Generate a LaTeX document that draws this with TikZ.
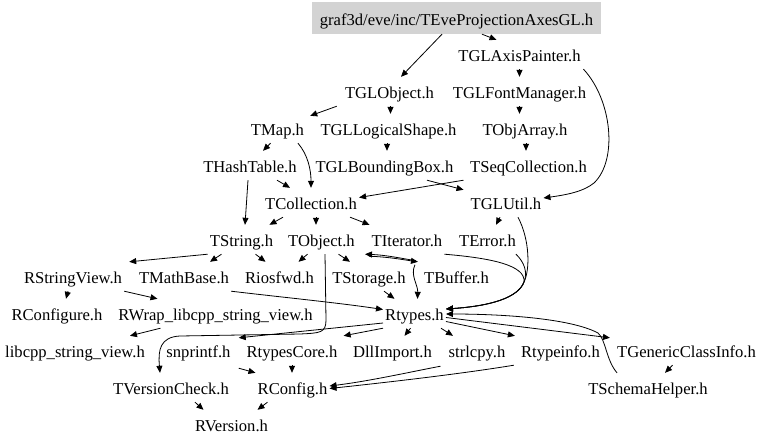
\documentclass[tikz,border=0pt]{standalone}
\usepackage{fontspec}
\setmainfont{Liberation Serif}
\usetikzlibrary{arrows.meta}
\definecolor{mainfill}{RGB}{211,211,211}
\begin{document}
\begin{tikzpicture}[x=1pt,y=-1pt,
  font=\fontsize{16.6}{19}\selectfont,
  nd/.style={inner xsep=2pt,inner ysep=0pt,text height=16pt,text depth=2pt,minimum height=29pt,anchor=base},
  mainnode/.style={inner xsep=2pt,inner ysep=0pt,text height=16pt,text depth=2pt,minimum height=32pt,minimum width=289pt,fill=mainfill,anchor=center},
  e/.style={draw=black,line width=0.8pt,-{Triangle[length=7pt,width=6pt]}}]
\fill[white] (0,0) rectangle (768,447);
\useasboundingbox (0,0) rectangle (768,447);
% nodes
\node[mainnode] (main) at (456.5,18) {graf3d/eve/inc/TEveProjectionAxesGL.h};
\node[nd] (TGLAxisPainter) at (519.5,61.5) {TGLAxisPainter.h};
\node[nd] (TGLObject) at (389.5,98.5) {TGLObject.h};
\node[nd] (TGLFontManager) at (519.5,98.5) {TGLFontManager.h};
\node[nd] (TMap) at (277.5,135.5) {TMap.h};
\node[nd] (TGLLogicalShape) at (388.5,135.5) {TGLLogicalShape.h};
\node[nd] (TObjArray) at (525,135.5) {TObjArray.h};
\node[nd] (THashTable) at (250,172.5) {THashTable.h};
\node[nd] (TGLBoundingBox) at (384.5,172.5) {TGLBoundingBox.h};
\node[nd] (TSeqCollection) at (528.5,172.5) {TSeqCollection.h};
\node[nd] (TCollection) at (311,209.5) {TCollection.h};
\node[nd] (TGLUtil) at (506,209.5) {TGLUtil.h};
\node[nd] (TString) at (241.5,246.5) {TString.h};
\node[nd] (TObject) at (321.5,246.5) {TObject.h};
\node[nd] (TIterator) at (407,246.5) {TIterator.h};
\node[nd] (TError) at (487.5,246.5) {TError.h};
\node[nd] (RStringView) at (73,283.5) {RStringView.h};
\node[nd] (TMathBase) at (184,283.5) {TMathBase.h};
\node[nd] (Riosfwd) at (279.5,283.5) {Riosfwd.h};
\node[nd] (TStorage) at (369,283.5) {TStorage.h};
\node[nd] (TBuffer) at (456.5,283.5) {TBuffer.h};
\node[nd] (RConfigure) at (57,320.5) {RConfigure.h};
\node[nd] (RWrap) at (215.5,320.5) {RWrap\_libcpp\_string\_view.h};
\node[nd] (Rtypes) at (414.5,320.5) {Rtypes.h};
\node[nd] (libcpp) at (75,357.5) {libcpp\_string\_view.h};
\node[nd] (snprintf) at (198.5,357.5) {snprintf.h};
\node[nd] (RtypesCore) at (292,357.5) {RtypesCore.h};
\node[nd] (DllImport) at (392.5,357.5) {DllImport.h};
\node[nd] (strlcpy) at (477,357.5) {strlcpy.h};
\node[nd] (Rtypeinfo) at (560.5,357.5) {Rtypeinfo.h};
\node[nd] (TGenericClassInfo) at (686.5,357.5) {TGenericClassInfo.h};
\node[nd] (TVersionCheck) at (171,394.5) {TVersionCheck.h};
\node[nd] (RConfig) at (292.5,394.5) {RConfig.h};
\node[nd] (TSchemaHelper) at (648,394.5) {TSchemaHelper.h};
\node[nd] (RVersion) at (231.5,431.5) {RVersion.h};
% edges
\draw[e] ([xshift=-14.5pt]main.south) -- ([xshift=11.5pt]TGLObject.north);
\draw[e] ([xshift=25.5pt]main.south) -- ([xshift=-23pt]TGLAxisPainter.north);
\draw[e] (TGLAxisPainter.south) -- (TGLFontManager.north);
\draw[e] ([xshift=64pt]TGLAxisPainter.south) .. controls (612,100) and (618,160) .. (594,183) .. controls (583,192) and (565,195) .. ([yshift=4.5pt]TGLUtil.east);
\draw[e] ([xshift=-6pt]TGLObject.south west) -- ([xshift=4pt,yshift=-2pt]TMap.north east);
\draw[e] ([xshift=1pt]TGLObject.south) -- ([xshift=2pt]TGLLogicalShape.north);
\draw[e] (TGLFontManager.south) -- (TGLFontManager.south |- TObjArray.north);
\draw[e] ([xshift=-7pt]TMap.south) -- ([xshift=13pt]THashTable.north);
\draw[e] ([xshift=20.5pt]TMap.south) .. controls (308,155) and (311,170) .. (TCollection.north);
\draw[e] ([xshift=-1.5pt]TGLLogicalShape.south) -- ([xshift=2.5pt]TGLBoundingBox.north);
\draw[e] ([xshift=1pt]TObjArray.south) -- ([xshift=-2.5pt]TSeqCollection.north);
\draw[e] ([xshift=27pt]THashTable.south) -- ([xshift=-21pt]TCollection.north);
\draw[e] ([xshift=-2pt]THashTable.south) -- ([xshift=3.5pt]TString.north);
\draw[e] ([xshift=42.5pt]TGLBoundingBox.south) -- ([xshift=-5pt,yshift=-2pt]TGLUtil.north west);
\draw[e] ([xshift=-65pt]TSeqCollection.south) -- ([yshift=5pt]TCollection.east);
\draw[e] ([xshift=-28pt]TCollection.south) -- ([xshift=28pt]TString.north);
\draw[e] ([xshift=5pt]TCollection.south) -- ([xshift=-5.5pt]TObject.north);
\draw[e] ([xshift=-9pt]TCollection.south east) -- (TIterator.north west);
\draw[e] ([xshift=-6pt]TGLUtil.south) -- ([xshift=8.5pt]TError.north);
\draw[e] ([xshift=12pt]TGLUtil.south) .. controls (530,240) and (530,270) .. (524,282) .. controls (518,298) and (490,306) .. ([yshift=4.5pt]Rtypes.east);
\draw[e] ([xshift=28.5pt]TError.south) .. controls (524,262) and (528,272) .. (524,282) .. controls (518,298) and (490,306) .. ([yshift=4.5pt]Rtypes.east);
\draw[e] (TIterator.south east) .. controls (490,258) and (526,265) .. (524,282) .. controls (518,298) and (490,306) .. ([yshift=4.5pt]Rtypes.east);
\draw[e] (TString.south west) -- ([xshift=5pt]RStringView.north east);
\draw[e] ([xshift=-20pt]TString.south) -- ([xshift=26pt]TMathBase.north);
\draw[e] ([xshift=14pt]TString.south) -- ([xshift=-14pt]Riosfwd.north);
\draw[e] ([xshift=-14pt]TObject.south) -- ([xshift=19pt]Riosfwd.north);
\draw[e] ([xshift=17pt]TObject.south) -- ([xshift=-19pt]TStorage.north);
\draw[e] ([xshift=3.5pt]TObject.south) -- (326,320) .. controls (326,333) and (320,333) .. (300,334) -- (180,336) .. controls (160,337) and (158,350) .. ([xshift=-11pt]TVersionCheck.north);
\draw[e] ([xshift=12pt,yshift=-2pt]TObject.south east) .. controls (390,257) and (405,260) .. ([xshift=-4pt]TBuffer.north west);
\draw[e] ([xshift=-6pt,yshift=1pt]TBuffer.north west) .. controls (400,258) and (385,255) .. ([xshift=8pt]TObject.south east);
\draw[e] ([xshift=-7pt,yshift=-3pt]TBuffer.north west) .. controls (410,275) and (418,285) .. ([xshift=3pt]Rtypes.north);
\draw[e] ([xshift=15pt]TStorage.south) -- ([xshift=-20pt]Rtypes.north);
\draw[e] (TMathBase.south east) .. controls (280,297) and (340,303) .. ([yshift=4pt]Rtypes.west);
\draw[e] ([xshift=-5pt]RStringView.south) -- ([xshift=9pt]RConfigure.north);
\draw[e] (RStringView.south east) -- ([xshift=-58pt]RWrap.north);
\draw[e] ([xshift=-55pt]RWrap.south) -- ([xshift=-17pt]libcpp.north east);
\draw[e] ([yshift=-9.5pt]Rtypes.west) -- ([xshift=6pt,yshift=-2pt]snprintf.north east);
\draw[e] (Rtypes.south west) -- ([xshift=4pt]RtypesCore.north east);
\draw[e] ([xshift=-4pt]Rtypes.south) -- ([xshift=12pt]DllImport.north);
\draw[e] ([xshift=-5pt]Rtypes.south east) -- ([xshift=-24pt]strlcpy.north);
\draw[e] ([yshift=-8pt]Rtypes.east) -- ([xshift=-4pt]Rtypeinfo.north west);
\draw[e] ([yshift=-4pt]Rtypes.east) -- ([xshift=-5pt,yshift=-2pt]TGenericClassInfo.north west);
\draw[e] ([xshift=-31pt]TSchemaHelper.north) .. controls (606,360) and (606,340) .. (598,333) .. controls (570,318) and (500,314) .. ([yshift=-0.5pt]Rtypes.east);
\draw[e] ([xshift=-14pt]TGenericClassInfo.south) -- ([xshift=17pt]TSchemaHelper.north);
\draw[e] ([xshift=6pt,yshift=-3pt]snprintf.south east) -- (RConfig.north west);
\draw[e] (RtypesCore.south) -- (RtypesCore.south |- RConfig.north);
\draw[e] ([xshift=-6pt,yshift=-1pt]strlcpy.south west) .. controls (410,372) and (370,381) .. ([yshift=1.5pt]RConfig.east);
\draw[e] ([xshift=-5pt]Rtypeinfo.south west) .. controls (460,374) and (390,382) .. ([yshift=-1pt]RConfig.east);
\draw[e] ([xshift=24pt]TVersionCheck.south) -- ([xshift=-28pt]RVersion.north);
\draw[e] ([xshift=-25pt]RConfig.south) -- ([xshift=26pt]RVersion.north);
\end{tikzpicture}
\end{document}
